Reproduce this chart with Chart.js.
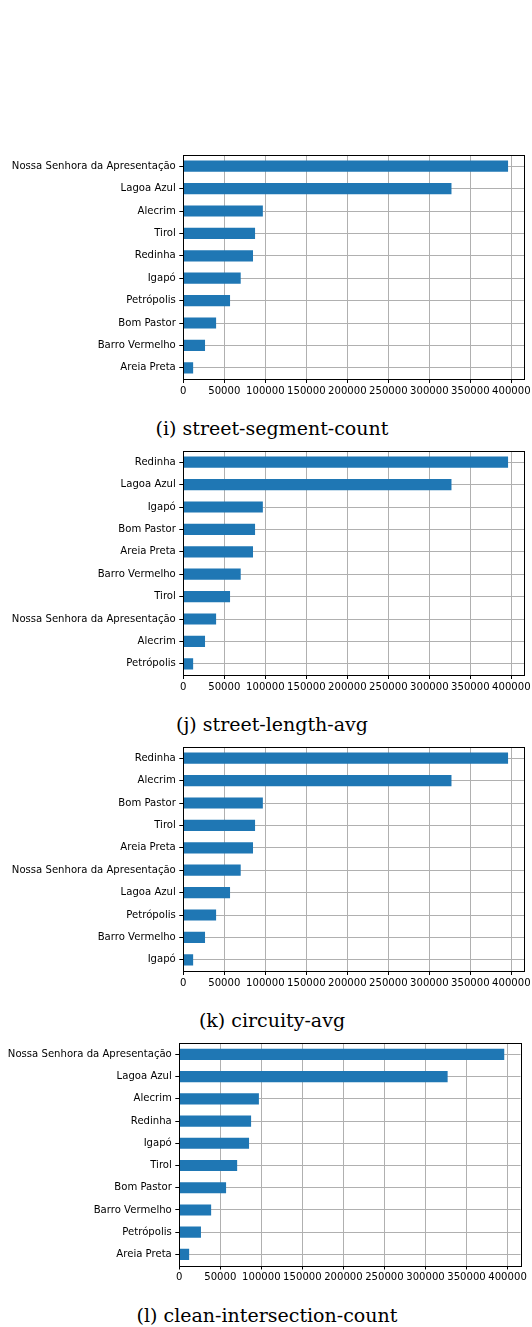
<!DOCTYPE html>
<html>
<head>
<meta charset="utf-8">
<script src="https://cdn.jsdelivr.net/npm/chart.js@4"></script>
<style>
  html, body { margin: 0; padding: 0; background: #fff; overflow: hidden; width: 532px; height: 1327px; position: relative; }
  .panel { position: absolute; left: 0; width: 560px; height: 270px; }
  .caption { position: absolute; font-family: "DejaVu Serif", serif; font-size: 19px; line-height: 1; color: #000; white-space: nowrap; transform: translate(-50%, -50%); }
</style>
</head>
<body>
<div class="panel" id="p1"><canvas id="c1"></canvas></div>
<div class="caption" style="left:272px; top:428px;">(i) street-segment-count</div>
<div class="panel" id="p2"><canvas id="c2"></canvas></div>
<div class="caption" style="left:272px; top:724px;">(j) street-length-avg</div>
<div class="panel" id="p3"><canvas id="c3"></canvas></div>
<div class="caption" style="left:272px; top:1020px;">(k) circuity-avg</div>
<div class="panel" id="p4"><canvas id="c4"></canvas></div>
<div class="caption" style="left:267px; top:1315px;">(l) clean-intersection-count</div>
<script>
// bairros por painel (de cima para baixo)
const segmentLabels = ['Nossa Senhora da Apresentação', 'Lagoa Azul', 'Alecrim', 'Tirol', 'Redinha', 'Igapó', 'Petrópolis', 'Bom Pastor', 'Barro Vermelho', 'Areia Preta'];
const segmentValues = [396000, 327000, 97000, 87500, 85000, 70000, 57000, 40000, 26500, 12000];

const lengthLabels = ['Redinha', 'Lagoa Azul', 'Igapó', 'Bom Pastor', 'Areia Preta', 'Barro Vermelho', 'Tirol', 'Nossa Senhora da Apresentação', 'Alecrim', 'Petrópolis'];
const lengthValues = [396000, 327000, 97000, 87500, 85000, 70000, 57000, 40000, 26500, 12000];

const circuityLabels = ['Redinha', 'Alecrim', 'Bom Pastor', 'Tirol', 'Areia Preta', 'Nossa Senhora da Apresentação', 'Lagoa Azul', 'Petrópolis', 'Barro Vermelho', 'Igapó'];
const circuityValues = [396000, 327000, 97000, 87500, 85000, 70000, 57000, 40000, 26500, 12000];

const intersectionLabels = ['Nossa Senhora da Apresentação', 'Lagoa Azul', 'Alecrim', 'Redinha', 'Igapó', 'Tirol', 'Bom Pastor', 'Barro Vermelho', 'Petrópolis', 'Areia Preta'];
const intersectionValues = [396000, 327000, 97000, 87500, 85000, 70500, 57000, 38800, 26400, 12000];

const xTickValues = [0, 50000, 100000, 150000, 200000, 250000, 300000, 350000, 400000];

// moldura completa (matplotlib spines)
const spines = {
    id: 'spines',
    afterDraw(chart) {
        const a = chart.chartArea;
        const ctx = chart.ctx;
        ctx.save();
        ctx.strokeStyle = '#000';
        ctx.lineWidth = 1;
        const l = Math.round(a.left) + 0.5, t = Math.round(a.top) + 0.5;
        ctx.strokeRect(l, t, Math.round(a.right) - Math.round(a.left), Math.round(a.bottom) - Math.round(a.top));
        ctx.restore();
    }
};

const tickFont = { family: 'DejaVu Sans', size: 10.1 };

function makePanel(canvasId, divId, labels, values, box) {
    const div = document.getElementById(divId);
    div.style.top = box.divTop + 'px';
    const H = 270, W = 560;
    const xAxisH = H - (box.top - box.divTop) - (box.bottom - box.top);

    new Chart(document.getElementById(canvasId), {
        type: 'bar',
        data: {
            labels: labels,
            datasets: [{
                data: values,
                backgroundColor: '#1f77b4',
                borderWidth: 0,
                barPercentage: 0.5,
                categoryPercentage: 1.0
            }]
        },
        options: {
            indexAxis: 'y',
            responsive: true,
            maintainAspectRatio: false,
            animation: false,
            layout: {
                padding: { left: 0, top: box.top - box.divTop, right: W - box.right, bottom: 0 }
            },
            plugins: {
                legend: { display: false },
                tooltip: { enabled: false }
            },
            scales: {
                x: {
                    z: 1,
                    min: 0,
                    max: Math.max(...values) * 1.05,
                    border: { display: false },
                    grid: { color: '#b0b0b0', lineWidth: 1, tickColor: '#000', tickLength: 4 },
                    ticks: {
                        autoSkip: false,
                        maxRotation: 0,
                        padding: 2,
                        color: '#000',
                        font: tickFont,
                        callback: v => String(v)
                    },
                    afterBuildTicks: s => { s.ticks = xTickValues.map(v => ({ value: v })); },
                    afterFit: s => { s.height = xAxisH; }
                },
                y: {
                    z: 1,
                    offset: true,
                    border: { display: false },
                    grid: { offset: false, color: '#b0b0b0', lineWidth: 1, tickColor: '#000', tickLength: 4 },
                    ticks: { padding: 3.5, color: '#000', font: tickFont, autoSkip: false },
                    afterFit: s => { s.width = box.left; }
                }
            }
        },
        plugins: [spines]
    });
}

makePanel('c1', 'p1', segmentLabels, segmentValues, { divTop: 140, top: 155, bottom: 379, left: 183.3, right: 524.3 });
makePanel('c2', 'p2', lengthLabels, lengthValues, { divTop: 436, top: 451, bottom: 675, left: 183.3, right: 524.3 });
makePanel('c3', 'p3', circuityLabels, circuityValues, { divTop: 732, top: 747, bottom: 971, left: 183.3, right: 524.3 });
makePanel('c4', 'p4', intersectionLabels, intersectionValues, { divTop: 1028, top: 1043.3, bottom: 1265.5, left: 179.3, right: 520.5 });
</script>
</body>
</html>
